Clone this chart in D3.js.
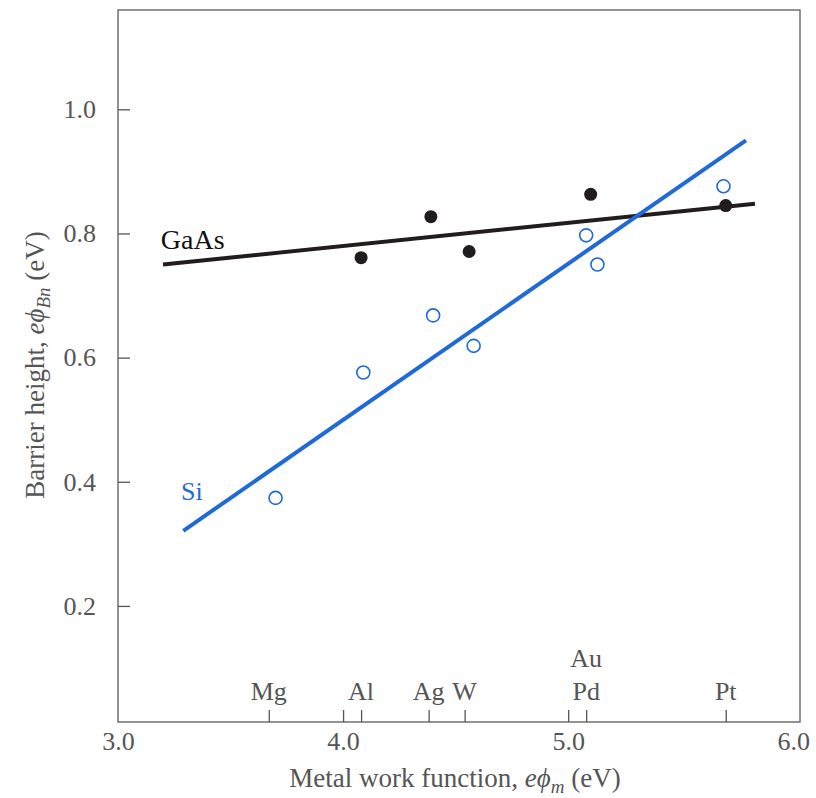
<!DOCTYPE html>
<html>
<head>
<meta charset="utf-8">
<script src="https://cdn.jsdelivr.net/npm/d3@7"></script>
</head>
<body style="margin:0; background:#fff">
<div id="chart"></div>
<script>
(function () {

// metals on the work-function axis
var metals = ["Mg", "Al", "Ag", "W", "Pd", "Pt"];
var metalPhi = [3.67, 4.08, 4.38, 4.54, 5.08, 5.70];

// measured barrier heights
var gaasPhi = [4.08, 4.39, 4.56, 5.10, 5.70];
var gaasBarrier = [0.761, 0.827, 0.771, 0.863, 0.845];

var siPhi = [3.70, 4.09, 4.40, 4.58, 5.08, 5.13, 5.69];
var siBarrier = [0.374, 0.576, 0.668, 0.619, 0.797, 0.750, 0.876];

// fitted lines (end points)
var gaasFitX = [3.20, 5.83];
var gaasFitY = [0.750, 0.848];
var siFitX = [3.29, 5.79];
var siFitY = [0.321, 0.950];

var xTicks = [3.0, 4.0, 5.0, 6.0];
var yTicks = [0.2, 0.4, 0.6, 0.8, 1.0];

var margin = {top: 10, right: 16, bottom: 76, left: 118},
    width = 816 - margin.left - margin.right,
    height = 798 - margin.top - margin.bottom;

var blue = "#1f6ad8";
var grey = "#555";
var serif = "Liberation Serif";

var x = d3.scaleLinear().domain([3, 6.03]).range([0, width]);
var y = d3.scaleLinear().domain([0.013, 1.16]).range([height, 0]);

var svg = d3.select("#chart").append("svg")
    .attr("width", width + margin.left + margin.right)
    .attr("height", height + margin.top + margin.bottom);

var chart = svg.append("g")
    .attr("transform", "translate(" + margin.left + "," + margin.top + ")");

chart.append("rect")
    .attr("width", width)
    .attr("height", height)
    .attr("fill", "none")
    .attr("stroke", "#666")
    .attr("stroke-width", 1.4);

function styleAxis(g) {
    g.attr("font-family", serif);
    g.select(".domain").remove();
    g.selectAll(".tick line").attr("stroke", grey).attr("stroke-width", 1.3);
    g.selectAll(".tick text")
        .attr("font-family", serif)
        .style("font-size", "26px")
        .style("fill", grey);
}

// y axis, ticks pointing inward
chart.append("g")
    .call(d3.axisLeft(y).tickValues(yTicks).tickSize(-12).tickPadding(22).tickFormat(d3.format(".1f")))
    .call(styleAxis);

// x axis labels
var xAxis = chart.append("g")
    .attr("transform", "translate(0," + height + ")")
    .call(d3.axisBottom(x).tickValues(xTicks).tickSize(-12).tickPadding(10).tickFormat(d3.format(".1f")))
    .call(styleAxis);
xAxis.selectAll(".tick").filter(function (d) { return d === 3 || d === 6; }).select("line").remove();

// metal ticks
chart.append("g")
    .attr("transform", "translate(0," + height + ")")
    .call(d3.axisBottom(x).tickValues(metalPhi).tickSize(-12).tickFormat(""))
    .call(styleAxis);

function label(sel, size, color) {
    return sel.attr("font-family", serif)
        .style("font-size", size + "px")
        .style("fill", color);
}

chart.selectAll(".metal")
    .data(metals)
    .enter().append("text")
    .attr("class", "metal")
    .attr("x", function (d, i) { return x(metalPhi[i]); })
    .attr("y", height - 22)
    .attr("text-anchor", "middle")
    .call(label, 26, grey)
    .text(function (d) { return d; });

chart.append("text")
    .attr("x", x(metalPhi[4]))
    .attr("y", height - 55)
    .attr("text-anchor", "middle")
    .call(label, 26, grey)
    .text("Au");

// fitted lines
var line = d3.line()
    .x(function (d) { return x(d[0]); })
    .y(function (d) { return y(d[1]); });

chart.append("path")
    .attr("d", line(d3.zip(gaasFitX, gaasFitY)))
    .attr("stroke", "#221c1c")
    .attr("stroke-width", 4)
    .attr("fill", "none");

chart.append("path")
    .attr("d", line(d3.zip(siFitX, siFitY)))
    .attr("stroke", blue)
    .attr("stroke-width", 4)
    .attr("fill", "none");

// points
chart.selectAll(".gaas")
    .data(d3.zip(gaasPhi, gaasBarrier))
    .enter().append("circle")
    .attr("class", "gaas")
    .attr("cx", function (d) { return x(d[0]); })
    .attr("cy", function (d) { return y(d[1]); })
    .attr("r", 6.5)
    .attr("fill", "#221c1c");

chart.selectAll(".si")
    .data(d3.zip(siPhi, siBarrier))
    .enter().append("circle")
    .attr("class", "si")
    .attr("cx", function (d) { return x(d[0]); })
    .attr("cy", function (d) { return y(d[1]); })
    .attr("r", 6.5)
    .attr("fill", "#fff")
    .attr("stroke", blue)
    .attr("stroke-width", 1.6);

// series labels
chart.append("text")
    .attr("x", x(3.19))
    .attr("y", y(0.775))
    .call(label, 28, "#111")
    .text("GaAs");

chart.append("text")
    .attr("x", x(3.28))
    .attr("y", y(0.37))
    .call(label, 26, blue)
    .text("Si");

// axis titles
var xt = svg.append("text")
    .attr("x", 455)
    .attr("y", 787)
    .attr("text-anchor", "middle")
    .call(label, 27, grey);
xt.append("tspan").text("Metal work function, ");
xt.append("tspan").style("font-style", "italic").text("e\u03d5");
xt.append("tspan").style("font-style", "italic").style("font-size", "19px").attr("dy", 6).text("m");
xt.append("tspan").attr("dy", -6).text(" (eV)");

var yt = svg.append("text")
    .attr("transform", "translate(44,365) rotate(-90)")
    .attr("text-anchor", "middle")
    .call(label, 27, grey);
yt.append("tspan").text("Barrier height, ");
yt.append("tspan").style("font-style", "italic").text("e\u03d5");
yt.append("tspan").style("font-style", "italic").style("font-size", "19px").attr("dy", 6).text("Bn");
yt.append("tspan").attr("dy", -6).text(" (eV)");

}).call(this);
</script>
</body>
</html>
